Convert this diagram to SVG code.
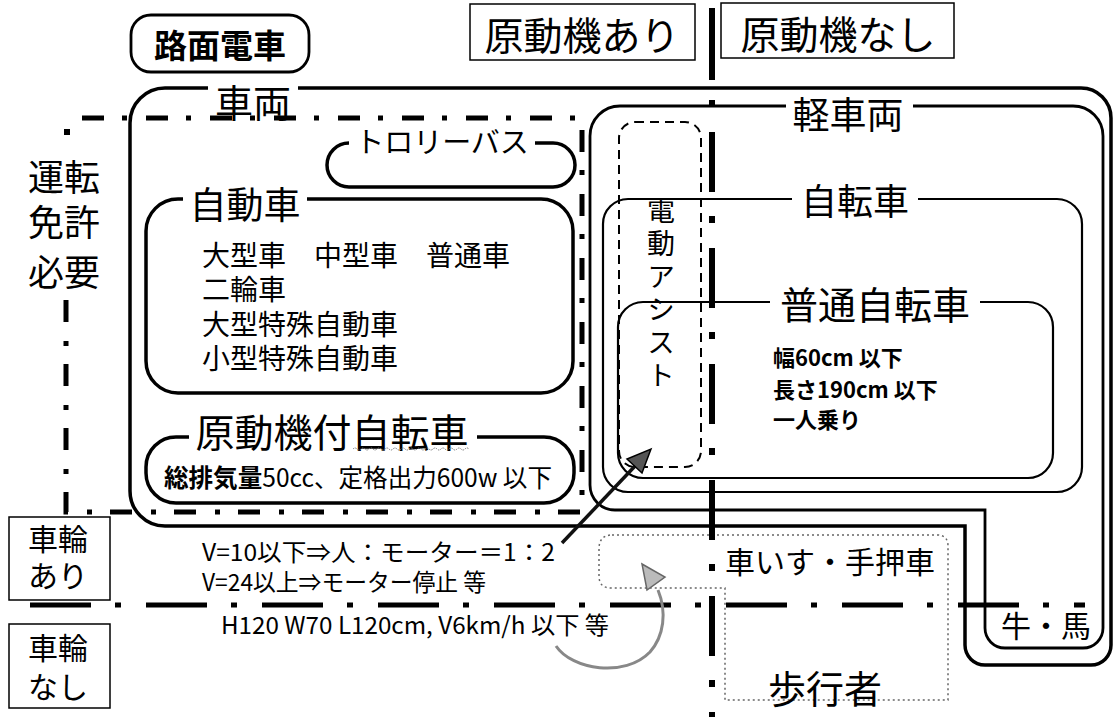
<svg xmlns="http://www.w3.org/2000/svg" width="1115" height="717" viewBox="0 0 1115 717">
<style>
text { font-family: "Noto Sans CJK JP", "Noto Sans", sans-serif; fill: #000; dominant-baseline: central; }
.c { text-anchor: middle; }
.box { fill: none; stroke: #000; }
.thick { stroke-width: 3.5; }
.mid { stroke-width: 2.8; }
.thin { stroke-width: 2.2; }
.hair { stroke-width: 1.5; }
.mask { fill: #fff; stroke: none; }
.dd { fill: none; stroke: #000; stroke-width: 5; }
</style>
<rect x="0" y="0" width="1115" height="717" fill="#fff"/>

<!-- header boxes -->
<g id="romen-densha">
  <rect class="box mid" x="131" y="15" width="178" height="57" rx="20"/>
  <text class="c" x="220" y="44" font-size="33" font-weight="bold">路面電車</text>
</g>
<g id="motor-ari">
  <rect class="box hair" x="470" y="4" width="225" height="56"/>
  <text class="c" x="582" y="33" font-size="39">原動機あり</text>
</g>
<g id="motor-nashi">
  <rect class="box hair" x="721" y="3" width="233" height="55"/>
  <text class="c" x="838" y="32" font-size="39">原動機なし</text>
</g>

<!-- 車両 -->
<g id="sharyo">
  <path class="box thick" d="M 298 88 L 1081 88 A 30 30 0 0 1 1111 118 L 1111 645 A 20 20 0 0 1 1091 665 L 985 665 A 20 20 0 0 1 965 645 L 965 526 L 165 526 A 35 35 0 0 1 130 491 L 130 123 A 35 35 0 0 1 165 88 L 208 88"/>
  <text class="c" x="253" y="100" font-size="38">車両</text>
</g>

<!-- トロリーバス -->
<g id="trolleybus">
  <rect class="box thick" x="327" y="143" width="248" height="44" rx="22"/>
  <rect class="mask" x="349" y="137" width="186" height="12"/>
  <text class="c" x="442" y="140" font-size="29">トロリーバス</text>
</g>

<!-- 自動車 -->
<g id="jidosha">
  <rect class="box thick" x="146" y="199" width="427" height="194" rx="32"/>
  <rect class="mask" x="183" y="193" width="124" height="12"/>
  <text class="c" x="245" y="203" font-size="37">自動車</text>
  <text font-size="28"><tspan x="202" y="254">大型車　中型車　普通車</tspan><tspan x="202" y="288">二輪車</tspan><tspan x="202" y="323">大型特殊自動車</tspan><tspan x="202" y="357">小型特殊自動車</tspan></text>
</g>

<!-- 原動機付自転車 -->
<g id="gentsuki">
  <rect class="box thick" x="146" y="437" width="428" height="66" rx="30"/>
  <rect class="mask" x="189" y="431" width="288" height="12"/>
  <text class="c" x="332" y="430" font-size="39">原動機付自転車</text>
  <path d="M 353 449 q 2 -2 4 0 t 4 0 t 4 0 t 4 0 t 4 0 t 4 0 t 4 0 t 4 0 t 4 0 t 4 0 t 4 0 t 4 0 t 4 0 t 4 0 t 4 0 t 4 0 t 4 0 t 4 0 t 4 0 t 4 0 t 4 0 t 4 0 t 4 0 t 4 0 t 4 0 t 4 0 t 4 0 t 4 0 t 4 0" fill="none" stroke="#777" stroke-width="1" stroke-dasharray="1.5 1"/>
  <text x="164" y="476" font-size="25" textLength="388" lengthAdjust="spacingAndGlyphs"><tspan font-weight="bold">総排気量</tspan>50cc、定格出力600w 以下</text>
</g>

<!-- 軽車両 -->
<g id="keisharyo">
  <path class="box mid" d="M 913 106 L 1073 106 A 30 30 0 0 1 1103 136 L 1103 628 A 20 20 0 0 1 1083 648 L 1005 648 A 20 20 0 0 1 985 628 L 985 510 L 615 510 A 25 25 0 0 1 590 485 L 590 136 A 30 30 0 0 1 620 106 L 786 106"/>
  <text class="c" x="848" y="113" font-size="37">軽車両</text>
  <text class="c" x="1046" y="624" font-size="30">牛・馬</text>
</g>

<!-- 自転車 -->
<g id="jitensha">
  <rect class="box thin" x="603" y="199" width="479" height="293" rx="25"/>
  <rect class="mask" x="792" y="193" width="126" height="12"/>
  <text class="c" x="855" y="199" font-size="36">自転車</text>
</g>

<!-- 普通自転車 -->
<g id="futsu-jitensha">
  <rect class="box thin" x="618" y="302" width="435" height="176" rx="25"/>
  <rect class="mask" x="770" y="296" width="210" height="12"/>
  <text class="c" x="875" y="302" font-size="38">普通自転車</text>
  <text font-size="22" font-weight="bold"><tspan x="773" y="356">幅60cm 以下</tspan><tspan x="773" y="388">長さ190cm 以下</tspan><tspan x="773" y="418">一人乗り</tspan></text>
</g>

<!-- 電動アシスト -->
<g id="dendo-assist">
  <rect x="619" y="122" width="82" height="345" rx="16" fill="none" stroke="#000" stroke-width="2" stroke-dasharray="9 6"/>
  <text x="661" y="196" font-size="28" writing-mode="vertical-rl" letter-spacing="5">電動アシスト</text>
</g>

<!-- 車いす・手押車 / 歩行者 -->
<g id="kurumaisu-hokosha">
  <path d="M 612 535 L 937 535 Q 948 535 948 546 L 948 700 L 725 700 L 725 588 L 611 588 Q 599 588 599 576 L 599 549 Q 599 535 612 535 Z" fill="none" stroke="#666" stroke-width="1.5" stroke-dasharray="2 3"/>
  <text class="c" x="830" y="560" font-size="30">車いす・手押車</text>
  <text class="c" x="825" y="686" font-size="38">歩行者</text>
</g>

<!-- boundaries -->
<g id="boundaries">
  <path class="dd" d="M 82 118 L 582 118 L 582 512 L 66 512 L 66 297" stroke-dasharray="22 18 5 19"/>
  <rect x="64" y="129" width="6" height="6" fill="#000"/>
  <rect x="709" y="8" width="6" height="72" fill="#000"/>
  <line x1="712" y1="100" x2="712" y2="717" stroke="#000" stroke-width="6" stroke-dasharray="7 25 60 24"/>
  <line x1="30" y1="605" x2="1085" y2="605" stroke="#000" stroke-width="5" stroke-dasharray="61 24 6 25"/>
</g>

<!-- license / wheel labels -->
<g id="license">
  <text class="c" font-size="36"><tspan x="64" y="175">運転</tspan><tspan x="64" y="220">免許</tspan><tspan x="64" y="270">必要</tspan></text>
</g>
<g id="wheels-yes">
  <rect class="box hair" x="9" y="517" width="101" height="83"/>
  <text class="c" font-size="30"><tspan x="58" y="537">車輪</tspan><tspan x="58" y="574">あり</tspan></text>
</g>
<g id="wheels-no">
  <rect class="box hair" x="9" y="624" width="101" height="84"/>
  <text class="c" font-size="30"><tspan x="58" y="646">車輪</tspan><tspan x="58" y="685">なし</tspan></text>
</g>

<!-- notes -->
<g id="notes">
  <text font-size="24"><tspan x="202" y="550" textLength="353" lengthAdjust="spacingAndGlyphs">V=10以下⇒人：モーター＝1：2</tspan><tspan x="202" y="580" textLength="284" lengthAdjust="spacingAndGlyphs">V=24以上⇒モーター停止 等</tspan></text>
  <text x="221" y="623" font-size="24" textLength="388" lengthAdjust="spacingAndGlyphs">H120 W70 L120cm, V6km/h 以下 等</text>
</g>

<!-- connectors -->
<g id="connectors">
  <line x1="562" y1="543" x2="636" y2="465" stroke="#111" stroke-width="3.5"/>
  <polygon points="651,449 642,473 627,459" fill="#555" stroke="#000" stroke-width="1.5"/>
  <path d="M 556 646 C 572 670, 625 678, 650 652 C 664 636, 667 612, 658 590" fill="none" stroke="#888" stroke-width="3"/>
  <polygon points="642,564 665,577 647,590" fill="#bbb" stroke="#666" stroke-width="1.5"/>
</g>
</svg>
